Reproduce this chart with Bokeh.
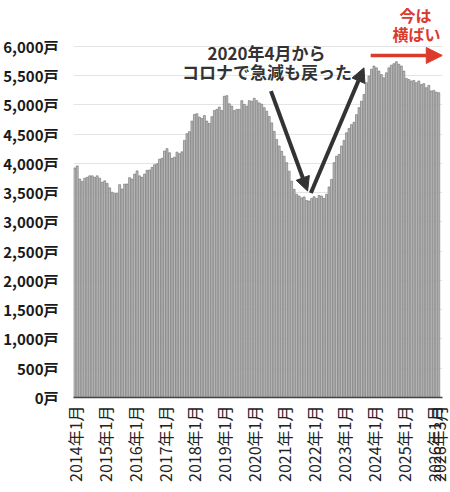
import math
from bokeh.plotting import figure
from bokeh.models import Range1d, FixedTicker, Label, Arrow, NormalHead, ColumnDataSource
from bokeh.embed import file_html
from bokeh.resources import INLINE

# monthly inventory (units)
y2014 = [3920, 3955, 3730, 3690, 3745, 3760, 3785, 3785, 3760, 3785, 3745, 3675]
y2015 = [3700, 3655, 3580, 3505, 3485, 3485, 3635, 3560, 3645, 3645, 3755, 3730]
y2016 = [3815, 3870, 3785, 3760, 3815, 3880, 3885, 3930, 3975, 3990, 4070, 4085]
y2017 = [4210, 4250, 4180, 4085, 4105, 4190, 4165, 4195, 4390, 4505, 4540, 4720]
y2018 = [4835, 4845, 4790, 4765, 4815, 4720, 4680, 4795, 4900, 4920, 4960, 4900]
y2019 = [5145, 5155, 5015, 4975, 4900, 4920, 4920, 5070, 5005, 4975, 5070, 5060]
y2020 = [5110, 5070, 5030, 5010, 4950, 4890, 4800, 4690, 4545, 4405, 4295, 4205]
y2021 = [4120, 4010, 3865, 3695, 3555, 3470, 3440, 3410, 3425, 3365, 3355, 3400]
y2022 = [3430, 3400, 3450, 3440, 3400, 3470, 3595, 3725, 4010, 4120, 4150, 4295]
y2023 = [4390, 4520, 4595, 4660, 4700, 4830, 4950, 5060, 5175, 5375, 5490, 5605]
y2024 = [5660, 5630, 5575, 5515, 5460, 5545, 5630, 5675, 5700, 5735, 5690, 5660]
y2025 = [5575, 5450, 5430, 5405, 5415, 5375, 5405, 5345, 5360, 5290, 5330, 5235]
y2026 = [5245, 5215, 5205]

years = [y2014, y2015, y2016, y2017, y2018, y2019, y2020, y2021, y2022, y2023, y2024, y2025, y2026]
inventory = [v for yr in years for v in yr]
months = [f"{2014 + yi}年{mi + 1}月" for yi, yr in enumerate(years) for mi in range(len(yr))]

x_tick_labels = ["2014年1月", "2015年1月", "2016年1月", "2017年1月", "2018年1月", "2019年1月",
                 "2020年1月", "2021年1月", "2022年1月", "2023年1月", "2024年1月", "2025年1月",
                 "2026年1月", "2026年3月"]
y_ticks = [0, 500, 1000, 1500, 2000, 2500, 3000, 3500, 4000, 4500, 5000, 5500, 6000]
y_tick_labels = ["0戸", "500戸", "1,000戸", "1,500戸", "2,000戸", "2,500戸", "3,000戸",
                 "3,500戸", "4,000戸", "4,500戸", "5,000戸", "5,500戸", "6,000戸"]

FONT = "Noto Sans CJK JP"
RED = "#dc3a2d"
DARK = "#333333"

src = ColumnDataSource(dict(x=list(range(len(inventory))), top=inventory, month=months))

p = figure(width=450, height=492, x_range=Range1d(-0.5, 147.5), y_range=Range1d(0, 6780),
           output_backend="svg", toolbar_location=None,
           min_border_left=72, min_border_right=8, min_border_top=0, min_border_bottom=95)
p.outline_line_color = None
p.background_fill_color = "white"
p.border_fill_color = "white"

p.vbar(x="x", top="top", width=0.78, source=src, fill_color="#bcbcbc",
       line_color="#7a7a7a", line_width=0.7)

# axes
x_ticks = [months.index(t) for t in x_tick_labels]
p.xaxis.ticker = FixedTicker(ticks=x_ticks)
p.xaxis.major_label_overrides = {t: lab for t, lab in zip(x_ticks, x_tick_labels)}
p.xaxis.major_label_orientation = math.pi / 2
p.xaxis.major_label_text_font = FONT
p.xaxis.major_label_text_font_size = "16px"
p.xaxis.major_label_text_color = "#222222"
p.xaxis.major_label_standoff = 8
p.xaxis.major_tick_out = 0
p.xaxis.major_tick_in = 0
p.xaxis.major_tick_line_color = None
p.xaxis.minor_tick_line_color = None
p.xaxis.axis_line_color = "#444444"
p.xaxis.axis_line_width = 1.5

p.yaxis.ticker = FixedTicker(ticks=y_ticks)
p.yaxis.major_label_overrides = {t: lab for t, lab in zip(y_ticks, y_tick_labels)}
p.yaxis.major_label_text_font = FONT
p.yaxis.major_label_text_font_size = "15px"
p.yaxis.major_label_text_font_style = "bold"
p.yaxis.major_label_text_color = "#1a1a1a"
p.yaxis.major_label_standoff = 15
p.yaxis.major_tick_out = 0
p.yaxis.major_tick_in = 0
p.yaxis.major_tick_line_color = None
p.yaxis.minor_tick_line_color = None
p.yaxis.axis_line_color = None

p.xgrid.grid_line_color = None
p.ygrid.ticker = FixedTicker(ticks=y_ticks)
p.ygrid.grid_line_color = "#e4e4e4"
p.ygrid.grid_line_width = 1

# title
p.add_layout(Label(x=-28.1, y=6222, text="在庫戸数", text_font=FONT, text_font_size="15px",
                   text_font_style="bold", text_color="#1a1a1a",
                   text_align="left", text_baseline="middle"))

# annotations
for txt, xx, yy in [("2020年4月から", 76.9, 5898), ("コロナで急減も戻った", 77.1, 5565)]:
    p.add_layout(Label(x=xx, y=yy, text=txt, text_font=FONT, text_font_size="17px",
                       text_font_style="bold", text_color=DARK,
                       text_align="center", text_baseline="middle"))
for txt, xx, yy in [("今は", 136.7, 6534), ("横ばい", 137.1, 6200)]:
    p.add_layout(Label(x=xx, y=yy, text=txt, text_font=FONT, text_font_size="16px",
                       text_font_style="bold", text_color=RED,
                       text_align="center", text_baseline="middle"))

p.add_layout(Arrow(end=NormalHead(size=14, fill_color=DARK, line_color=DARK),
                   x_start=78.7, y_start=5232, x_end=93.4, y_end=3526,
                   line_width=4, line_color=DARK))
p.add_layout(Arrow(end=NormalHead(size=14, fill_color=DARK, line_color=DARK),
                   x_start=94.7, y_start=3492, x_end=116.0, y_end=5630,
                   line_width=4, line_color=DARK))
p.add_layout(Arrow(end=NormalHead(size=16, fill_color=RED, line_color=RED),
                   x_start=118.7, y_start=5841, x_end=147.4, y_end=5841,
                   line_width=3.5, line_color=RED))

open("out.html", "w").write(file_html(p, INLINE))
